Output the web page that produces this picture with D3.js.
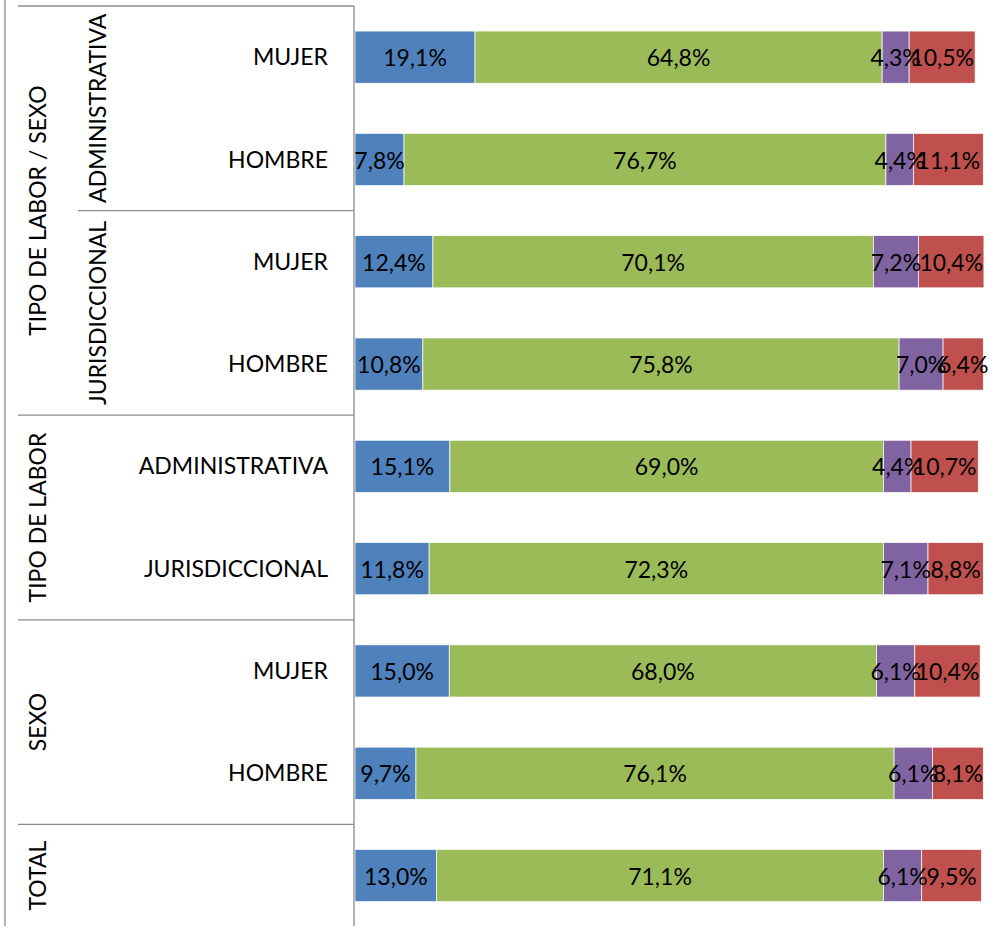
<!DOCTYPE html>
<html>
<head>
<meta charset="utf-8">
<script src="https://cdn.jsdelivr.net/npm/d3@7"></script>
<style>
  html, body { margin: 0; padding: 0; background: #fff; }
  svg { display: block; font-family: Lato, "Liberation Sans", sans-serif; }
</style>
</head>
<body>
<svg id="chart" width="993" height="926"></svg>
<script>
// ---- data ----
const categories = ["MUJER", "HOMBRE", "MUJER", "HOMBRE", "ADMINISTRATIVA", "JURISDICCIONAL", "MUJER", "HOMBRE", ""];
const seriesNames = ["Serie 1", "Serie 2", "Serie 3", "Serie 4"];
const serie1 = [19.1, 7.8, 12.4, 10.8, 15.1, 11.8, 15.0, 9.7, 13.0];
const serie2 = [64.8, 76.7, 70.1, 75.8, 69.0, 72.3, 68.0, 76.1, 71.1];
const serie3 = [4.3, 4.4, 7.2, 7.0, 4.4, 7.1, 6.1, 6.1, 6.1];
const serie4 = [10.5, 11.1, 10.4, 6.4, 10.7, 8.8, 10.4, 8.1, 9.5];
const seriesColors = ["#4F81BD", "#9BBB59", "#8064A2", "#C0504D"];
// hierarchical category groups: [label, first row, last row (exclusive)]
const innerGroups = [["ADMINISTRATIVA", 0, 2], ["JURISDICCIONAL", 2, 4]];
const outerGroups = [["TIPO DE LABOR / SEXO", 0, 4], ["TIPO DE LABOR", 4, 6], ["SEXO", 6, 8], ["TOTAL", 8, 9]];

// ---- layout ----
const svg = d3.select("#chart");
const plotLeft = 355, plotRight = 983.3, plotTop = 6, step = 102.3;
const FS = 23;
const idx = d3.range(categories.length);
const y = d3.scaleBand().domain(idx).range([plotTop, plotTop + step * idx.length])
  .paddingInner(0.49).paddingOuter(0.245);
const x = d3.scaleLinear().domain([0, 100]).range([plotLeft, plotRight]);
const fmt = d3.formatLocale({decimal: ",", thousands: ".", grouping: [3], currency: ["", ""]}).format(".1f");

const rows = idx.map(i => ({i, vals: [serie1[i], serie2[i], serie3[i], serie4[i]]}));
const stackData = rows.map(r => { const o = {i: r.i}; seriesNames.forEach((s, k) => o[s] = r.vals[k]); return o; });
const stacked = d3.stack().keys(seriesNames)(stackData);

const gridColor = "#8c8c8c";

// bars
const layer = svg.append("g").selectAll("g").data(stacked).join("g")
  .attr("fill", (d, k) => seriesColors[k]);
layer.selectAll("rect").data(d => d).join("rect")
  .attr("x", d => x(d[0]))
  .attr("width", d => x(d[1]) - x(d[0]))
  .attr("y", d => y(d.data.i))
  .attr("height", y.bandwidth())
  .attr("stroke", "#fff").attr("stroke-width", 0.7);

// value labels (drawn above all bars)
const labelLayer = svg.append("g").selectAll("g").data(stacked).join("g");
labelLayer.selectAll("text").data(d => d).join("text")
  .attr("x", d => (x(d[0]) + x(d[1])) / 2)
  .attr("y", d => y(d.data.i) + y.bandwidth() / 2 + 1)
  .attr("dy", "0.35em")
  .attr("text-anchor", "middle")
  .attr("font-size", FS)
  .attr("fill", "#000")
  .text(d => fmt(d[1] - d[0]) + "%");

// category axis lines
const g = svg.append("g").attr("stroke", gridColor).attr("stroke-width", 1.3).attr("fill", "none");
g.append("line").attr("x1", 5).attr("x2", 5).attr("y1", 0).attr("y2", 926);
g.append("line").attr("x1", plotLeft - 1).attr("x2", plotLeft - 1).attr("y1", plotTop).attr("y2", 926);
g.append("line").attr("x1", 18).attr("x2", plotLeft - 1).attr("y1", plotTop).attr("y2", plotTop);
outerGroups.slice(1).forEach(([_, s]) => {
  const yy = y(s) - y.step() * y.paddingInner() / 2;
  g.append("line").attr("x1", 18).attr("x2", plotLeft - 1).attr("y1", yy).attr("y2", yy);
});
innerGroups.slice(1).forEach(([_, s]) => {
  const yy = y(s) - y.step() * y.paddingInner() / 2;
  g.append("line").attr("x1", 78).attr("x2", plotLeft - 1).attr("y1", yy).attr("y2", yy);
});

// category labels
svg.append("g").selectAll("text").data(idx).join("text")
  .attr("x", 328)
  .attr("y", i => y(i) + y.bandwidth() / 2)
  .attr("dy", "0.35em")
  .attr("text-anchor", "end")
  .attr("font-size", FS)
  .attr("fill", "#000")
  .text(i => categories[i]);

function groupCenter(s, e) {
  return (y(s) - y.step() * y.paddingInner() / 2 + y(e - 1) + y.bandwidth() + y.step() * y.paddingInner() / 2) / 2;
}
svg.append("g").selectAll("text").data(outerGroups).join("text")
  .attr("transform", d => `translate(46,${groupCenter(d[1], d[2])}) rotate(-90)`)
  .attr("text-anchor", "middle")
  .attr("font-size", FS)
  .attr("fill", "#000")
  .text(d => d[0]);
svg.append("g").selectAll("text").data(innerGroups).join("text")
  .attr("transform", d => `translate(106,${groupCenter(d[1], d[2])}) rotate(-90)`)
  .attr("text-anchor", "middle")
  .attr("font-size", FS)
  .attr("fill", "#000")
  .text(d => d[0]);
</script>
</body>
</html>
